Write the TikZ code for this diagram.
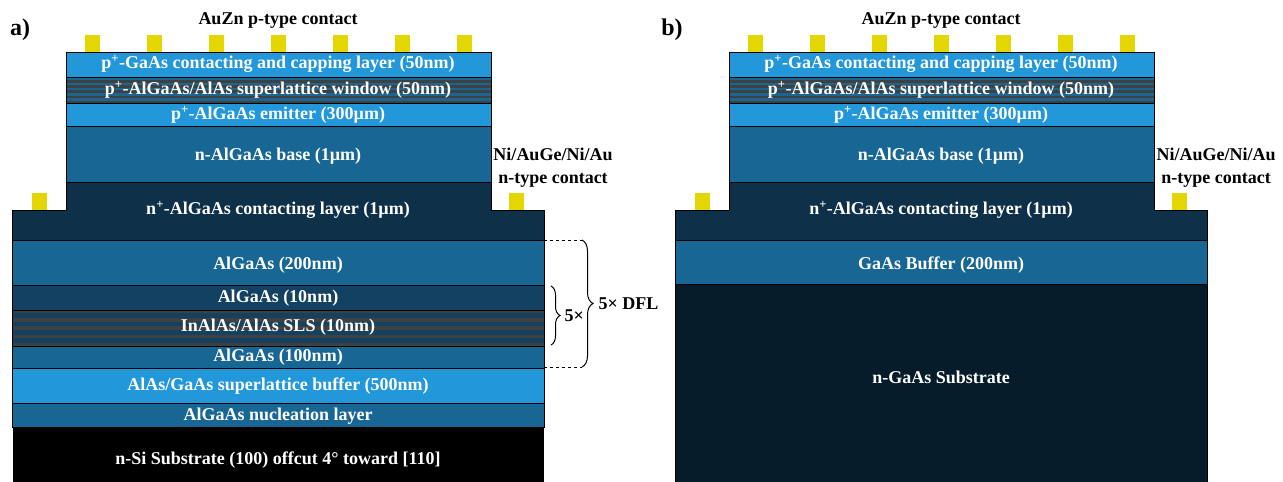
\documentclass[tikz,border=0pt]{standalone}
\usepackage{fontspec}
\setmainfont{Liberation Serif}
\usepackage{tikz}
\usetikzlibrary{decorations.pathreplacing}
\definecolor{lightblue}{RGB}{34,151,218}
\definecolor{midblue}{RGB}{24,102,147}
\definecolor{darkblue}{RGB}{14,49,73}
\definecolor{slblue}{RGB}{18,65,97}
\definecolor{slgrey}{RGB}{64,64,64}
\definecolor{subblue}{RGB}{7,28,42}
\definecolor{contactyellow}{RGB}{228,214,0}

\begin{document}
\begin{tikzpicture}[x=1pt, y=-1pt,
    layer/.style={draw=black, line width=0.9pt},
    lbl/.style={text=white, font=\bfseries\fontsize{18}{20}\selectfont, inner sep=0pt},
    note/.style={text=black, font=\bfseries\fontsize{18}{23}\selectfont, inner sep=0pt, align=center},
    panel/.style={text=black, font=\bfseries\fontsize{24}{26}\selectfont, inner sep=0pt},
    contact/.style={fill=contactyellow}]
  \useasboundingbox (0,0) rectangle (1283,482);

  % mesa and contacts, same in both structures
  \foreach \ox/\p in {0/a, 663/b} {
    \begin{scope}[xshift=\ox]
      \filldraw[layer, fill=lightblue] (66,52) rectangle (491,77);
      \fill[midblue] (66,77) rectangle (491,103);
      \foreach \s in {0,...,4}
        \fill[slgrey] (66,{80+5.2*\s}) rectangle (491,{82.8+5.2*\s});
      \draw[layer] (66,77) rectangle (491,103);
      \filldraw[layer, fill=lightblue] (66,103) rectangle (491,126);
      \filldraw[layer, fill=midblue] (66,126) rectangle (491,182);
      \filldraw[layer, fill=darkblue] (66,182) -- (491,182) -- (491,210) -- (544,210)
        -- (544,240) -- (12.5,240) -- (12.5,210) -- (66,210) -- cycle;

      \foreach \cx in {85,147,...,457}
        \fill[contact] (\cx,35) rectangle ++(15,17);
      \fill[contact] (32,193) rectangle (47,210);
      \fill[contact] (509,193) rectangle (524,210);

      \node[lbl] (cap\p)  at (278,64)  {p\textsuperscript{+}-GaAs contacting and capping layer (50nm)};
      \node[lbl] (win\p)  at (278,90)  {p\textsuperscript{+}-AlGaAs/AlAs superlattice window (50nm)};
      \node[lbl] (emit\p) at (278,115) {p\textsuperscript{+}-AlGaAs emitter (300µm)};
      \node[lbl] (base\p) at (278,156) {n-AlGaAs base (1µm)};
      \node[lbl] (ncl\p)  at (278,210) {n\textsuperscript{+}-AlGaAs contacting layer (1µm)};

      \node[note] (pc\p) at (278,20)  {AuZn p-type contact};
      \node[note] (nc\p) at (553,168) {Ni/AuGe/Ni/Au\\n-type contact};
    \end{scope}
  }

  % a) buffer on Si
  \filldraw[layer, fill=midblue] (12.5,240) rectangle (544,285);
  \filldraw[layer, fill=slblue] (12.5,285) rectangle (544,310);
  \fill[slblue] (12.5,310) rectangle (544,346);
  \foreach \s in {0,...,4}
    \fill[slgrey] (12.5,{310+8.2*\s}) rectangle (544,{313.3+8.2*\s});
  \draw[layer] (12.5,310) rectangle (544,346);
  \filldraw[layer, fill=midblue] (12.5,346) rectangle (544,368);
  \filldraw[layer, fill=lightblue] (12.5,368) rectangle (544,403);
  \filldraw[layer, fill=midblue] (12.5,403) rectangle (544,427);
  \fill[black] (12.5,427) rectangle (544,482);

  \node[lbl] (alga200) at (278,265) {AlGaAs (200nm)};
  \node[lbl] (alga10)  at (278,298) {AlGaAs (10nm)};
  \node[lbl] (sls)     at (278,327) {InAlAs/AlAs SLS (10nm)};
  \node[lbl] (alga100) at (278,357) {AlGaAs (100nm)};
  \node[lbl] (slbuf)   at (278,386) {AlAs/GaAs superlattice buffer (500nm)};
  \node[lbl] (nucl)    at (278,416) {AlGaAs nucleation layer};
  \node[lbl] (subsi)   at (278,460) {n-Si Substrate (100) offcut 4° toward [110]};

  % repeat braces
  \coordinate (dflT) at (582,240);
  \coordinate (dflB) at (582,367);
  \draw[dashed, line width=1pt] (544,240) -- (dflT);
  \draw[dashed, line width=1pt] (544,367) -- (dflB);
  \draw[line width=1pt, decorate, decoration={brace, amplitude=11pt}] (dflT) -- (dflB)
    node[midway, right=16pt, note] (dfl) {5× DFL};
  \coordinate (slsT) at (551,286);
  \coordinate (slsB) at (551,345);
  \draw[line width=1pt, decorate, decoration={brace, amplitude=9pt}] (slsT) -- (slsB)
    node[midway, right=13pt, note] (rep) {5×};

  % b) GaAs substrate
  \filldraw[layer, fill=midblue] (675.5,240) rectangle (1207,284);
  \filldraw[layer, fill=subblue] (675.5,284) rectangle (1207,482);
  \node[lbl] (gabuf) at (941,265) {GaAs Buffer (200nm)};
  \node[lbl] (subga) at (941,377) {n-GaAs Substrate};

  \node[panel] (pa) at (20,30)  {a)};
  \node[panel] (pb) at (672,30) {b)};
\end{tikzpicture}
\end{document}
